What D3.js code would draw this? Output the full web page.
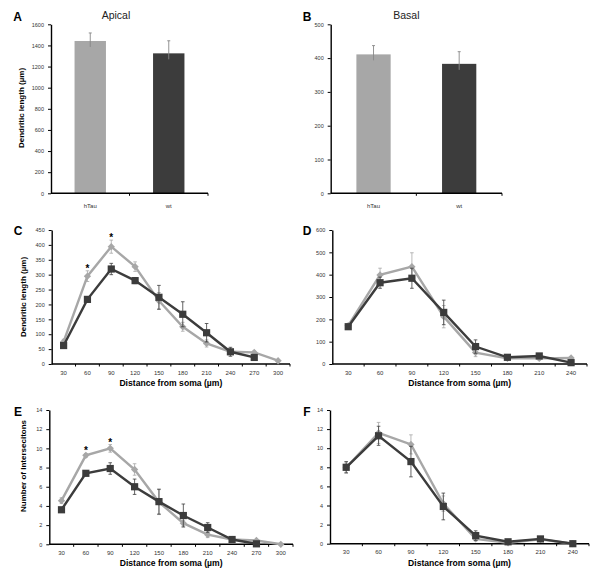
<!DOCTYPE html>
<html lang="en">
<head>
<meta charset="UTF-8">
<title>Dendritic length</title>
<script src="https://cdn.jsdelivr.net/npm/d3@7"></script>
<style>
  body { margin: 0; background: #fff; }
  text { font-family: "Liberation Sans", Arial, sans-serif; }
</style>
</head>
<body>
<script>
// ---- data ----
const groups = ['hTau', 'wt'];
const apicalMean = [1442, 1325];
const apicalErr = [76, 119];
const basalMean = [411, 383];
const basalErr = [26, 36];

const distLong = [30, 60, 90, 120, 150, 180, 210, 240, 270, 300];
const distShort = [30, 60, 90, 120, 150, 180, 210, 240];

// C: apical dendritic length per distance
const cTau = [75, 295, 394, 327, 212, 125, 69, 41, 39, 11];
const cTauErr = [8, 18, 22, 16, 28, 15, 12, 8, 5, 3];
const cWt = [62, 217, 319, 280, 224, 167, 105, 41, 22];
const cWtErr = [5, 8, 19, 10, 40, 42, 31, 15, 5];

// D: basal dendritic length per distance
const dTau = [172, 399, 436, 212, 51, 25, 25, 27];
const dTauErr = [8, 30, 62, 50, 18, 6, 6, 6];
const dWt = [167, 364, 384, 231, 78, 30, 36, 6];
const dWtErr = [8, 25, 45, 55, 30, 8, 8, 5];

// E: apical intersections
const eTau = [4.55, 9.27, 10.0, 7.8, 4.4, 2.2, 1.0, 0.5, 0.4, 0];
const eTauErr = [0.3, 0.2, 0.4, 0.6, 1.3, 0.3, 0.3, 0.1, 0.1, 0.05];
const eWt = [3.6, 7.4, 7.9, 6.0, 4.45, 3.0, 1.75, 0.5, 0.05];
const eWtErr = [0.2, 0.2, 0.6, 0.8, 1.3, 1.2, 0.5, 0.1, 0.05];

// F: basal intersections
const fTau = [7.96, 11.6, 10.4, 4.2, 0.5, 0.1, 0.45, 0];
const fTauErr = [0.5, 1.1, 1.0, 0.8, 0.2, 0.1, 0.1, 0];
const fWt = [8.0, 11.3, 8.6, 3.9, 0.85, 0.2, 0.5, 0];
const fWtErr = [0.6, 1.0, 1.6, 1.4, 0.5, 0.1, 0.1, 0];

const lightGray = '#a7a7a7';
const darkGray = '#3c3c3c';

const svg = d3.select('body').append('svg')
  .attr('width', 600).attr('height', 576)
  .style('display', 'block');

function yAxis(g, y, ticks, x0) {
  const ax = g.append('g')
    .attr('transform', `translate(${x0},0)`)
    .call(d3.axisLeft(y).tickValues(ticks).tickFormat(d3.format('d'))
      .tickSize(3).tickPadding(4).tickSizeOuter(0));
  ax.select('.domain').attr('stroke', '#000').attr('stroke-width', 1.4);
  ax.selectAll('.tick line').attr('stroke', '#000');
  ax.selectAll('.tick text').attr('font-size', 5.5).attr('fill', '#333');
}

function xAxis(g, x, yPix, labelOffset, fontSize) {
  const [r0, r1] = x.range();
  g.append('line')
    .attr('x1', r0).attr('x2', r1).attr('y1', yPix).attr('y2', yPix)
    .attr('stroke', '#000').attr('stroke-width', 1.4);
  const edges = x.domain().map(d => x(d)).concat([r1]);
  g.selectAll(null).data(edges.slice(1)).join('line')
    .attr('x1', d => d).attr('x2', d => d)
    .attr('y1', yPix).attr('y2', yPix + 2.5)
    .attr('stroke', '#000');
  g.selectAll(null).data(x.domain()).join('text')
    .attr('x', d => x(d) + x.bandwidth() / 2)
    .attr('y', yPix + labelOffset)
    .attr('text-anchor', 'middle')
    .attr('font-size', fontSize)
    .attr('fill', '#333')
    .text(d => d);
}

function yTitle(g, txt, cx, cy, size) {
  g.append('text')
    .attr('transform', `translate(${cx},${cy}) rotate(-90)`)
    .attr('text-anchor', 'middle')
    .attr('font-size', size)
    .attr('font-weight', 'bold')
    .text(txt);
}

function letter(g, txt, x, y) {
  g.append('text')
    .attr('x', x).attr('y', y)
    .attr('font-size', 12)
    .attr('font-weight', 'bold')
    .attr('text-anchor', 'middle')
    .text(txt);
}

function barPanel(cfg) {
  const g = svg.append('g');
  const x = d3.scaleBand().domain(groups).range([cfg.x0, cfg.x1]);
  const y = d3.scaleLinear().domain([0, cfg.yMax]).range([cfg.yb, cfg.yt]);
  const colors = [lightGray, darkGray];
  const bw = x.bandwidth() * 0.4;

  g.selectAll(null).data(cfg.mean).join('rect')
    .attr('x', (d, i) => x(groups[i]) + x.bandwidth() / 2 - bw / 2)
    .attr('y', d => y(d))
    .attr('width', bw)
    .attr('height', d => y(0) - y(d))
    .attr('fill', (d, i) => colors[i]);

  // error bars (upper only)
  cfg.mean.forEach((m, i) => {
    const cx = x(groups[i]) + x.bandwidth() / 2;
    g.append('line').attr('x1', cx).attr('x2', cx)
      .attr('y1', y(m) + 6).attr('y2', y(m + cfg.err[i]))
      .attr('stroke', '#888').attr('stroke-width', 0.9);
    g.append('line').attr('x1', cx - 1.5).attr('x2', cx + 1.5)
      .attr('y1', y(m + cfg.err[i])).attr('y2', y(m + cfg.err[i]))
      .attr('stroke', '#888').attr('stroke-width', 0.9);
  });

  yAxis(g, y, d3.range(0, cfg.yMax + 1, cfg.yStep), cfg.x0);
  // x axis with single middle tick
  g.append('line').attr('x1', cfg.x0).attr('x2', cfg.x1)
    .attr('y1', cfg.yb).attr('y2', cfg.yb).attr('stroke', '#000').attr('stroke-width', 1.4);
  [x('wt'), cfg.x1].forEach(px => {
    g.append('line').attr('x1', px).attr('x2', px)
      .attr('y1', cfg.yb).attr('y2', cfg.yb + 2.5).attr('stroke', '#000');
  });
  g.selectAll(null).data(groups).join('text')
    .attr('x', d => x(d) + x.bandwidth() / 2)
    .attr('y', cfg.yb + 15)
    .attr('text-anchor', 'middle')
    .attr('font-size', 6)
    .attr('fill', '#333')
    .text(d => d);

  g.append('text')
    .attr('x', (cfg.x0 + cfg.x1) / 2 - cfg.titleShift).attr('y', 19)
    .attr('text-anchor', 'middle')
    .attr('font-family', '"Open Sans", sans-serif')
    .attr('font-size', 10.5)
    .attr('fill', '#222')
    .text(cfg.title);
  letter(g, cfg.letter, cfg.lx, 21);
  if (cfg.yLabel) yTitle(g, cfg.yLabel, cfg.ylx, cfg.yly, 8);
}

function marker(g, kind, cx, cy, color) {
  if (kind === 'square') {
    g.append('rect').attr('x', cx - 3.6).attr('y', cy - 3.6)
      .attr('width', 7.2).attr('height', 7.2).attr('fill', color);
  } else {
    g.append('path')
      .attr('d', d3.symbol(d3.symbolDiamond2, 34)())
      .attr('transform', `translate(${cx},${cy})`)
      .attr('fill', color);
  }
}

function linePanel(cfg) {
  const g = svg.append('g');
  const x = d3.scaleBand().domain(cfg.cats).range([cfg.x0, cfg.x1]);
  const y = d3.scaleLinear().domain([0, cfg.yMax]).range([cfg.yb, cfg.yt]);
  const cx = i => x(cfg.cats[i]) + x.bandwidth() / 2;

  yAxis(g, y, d3.range(0, cfg.yMax + 0.001, cfg.yStep), cfg.x0);
  xAxis(g, x, cfg.yb, 10.5, 6);

  const line = d3.line().x((d, i) => cx(i)).y(d => y(d));
  cfg.series.forEach(s => {
    // error bars
    s.vals.forEach((v, i) => {
      const e = s.errs[i];
      if (!e) return;
      const px = cx(i);
      g.append('line').attr('x1', px).attr('x2', px)
        .attr('y1', y(v - e)).attr('y2', y(v + e))
        .attr('stroke', s.color).attr('stroke-width', 0.8);
      [v - e, v + e].forEach(t => {
        g.append('line').attr('x1', px - 1.8).attr('x2', px + 1.8)
          .attr('y1', y(t)).attr('y2', y(t))
          .attr('stroke', s.color).attr('stroke-width', 0.8);
      });
    });
    g.append('path').datum(s.vals)
      .attr('d', line)
      .attr('fill', 'none')
      .attr('stroke', s.color)
      .attr('stroke-width', 2.4);
    s.vals.forEach((v, i) => marker(g, s.marker, cx(i), y(v), s.color));
  });

  (cfg.stars || []).forEach(i => {
    const s = cfg.series[0];
    g.append('text')
      .attr('x', cx(i)).attr('y', y(s.vals[i] + s.errs[i]) + 1)
      .attr('text-anchor', 'middle')
      .attr('font-size', 10)
      .attr('font-weight', 'bold')
      .text('*');
  });

  g.append('text')
    .attr('x', (cfg.x0 + cfg.x1) / 2).attr('y', cfg.yb + 22)
    .attr('text-anchor', 'middle')
    .attr('font-size', 8.6)
    .attr('font-weight', 'bold')
    .text('Distance from soma (\u00b5m)');
  letter(g, cfg.letter, cfg.lx, cfg.ly);
  if (cfg.yLabel) yTitle(g, cfg.yLabel, cfg.ylx, cfg.yly, 8);
}

// A
barPanel({ x0: 51, x1: 208, yb: 193.3, yt: 24.3, yMax: 1600, yStep: 200,
  mean: apicalMean, err: apicalErr, title: 'Apical', titleShift: 13.5,
  letter: 'A', lx: 17.5, yLabel: 'Dendritic length (\u00b5m)', ylx: 24, yly: 108 });
// B
barPanel({ x0: 330.7, x1: 502, yb: 193.3, yt: 24.3, yMax: 500, yStep: 100,
  mean: basalMean, err: basalErr, title: 'Basal', titleShift: 10,
  letter: 'B', lx: 307, yLabel: null });

// C
linePanel({ x0: 51.7, x1: 290, yb: 364, yt: 230, yMax: 450, yStep: 50, cats: distLong,
  series: [
    { vals: cTau, errs: cTauErr, color: lightGray, marker: 'diamond' },
    { vals: cWt, errs: cWtErr, color: darkGray, marker: 'square' }
  ],
  stars: [1, 2], letter: 'C', lx: 18, ly: 235,
  yLabel: 'Dendritic length (\u00b5m)', ylx: 26, yly: 297 });
// D
linePanel({ x0: 332.3, x1: 587, yb: 364, yt: 230, yMax: 600, yStep: 100, cats: distShort,
  series: [
    { vals: dTau, errs: dTauErr, color: lightGray, marker: 'diamond' },
    { vals: dWt, errs: dWtErr, color: darkGray, marker: 'square' }
  ],
  letter: 'D', lx: 307, ly: 235 });
// E
linePanel({ x0: 49.3, x1: 293, yb: 544.3, yt: 410, yMax: 14, yStep: 2, cats: distLong,
  series: [
    { vals: eTau, errs: eTauErr, color: lightGray, marker: 'diamond' },
    { vals: eWt, errs: eWtErr, color: darkGray, marker: 'square' }
  ],
  stars: [1, 2], letter: 'E', lx: 18, ly: 416,
  yLabel: 'Number of Intersecitons', ylx: 26, yly: 466 });
// F
linePanel({ x0: 330, x1: 589, yb: 543.7, yt: 410, yMax: 14, yStep: 2, cats: distShort,
  series: [
    { vals: fTau, errs: fTauErr, color: lightGray, marker: 'diamond' },
    { vals: fWt, errs: fWtErr, color: darkGray, marker: 'square' }
  ],
  letter: 'F', lx: 307, ly: 416 });
</script>
</body>
</html>
